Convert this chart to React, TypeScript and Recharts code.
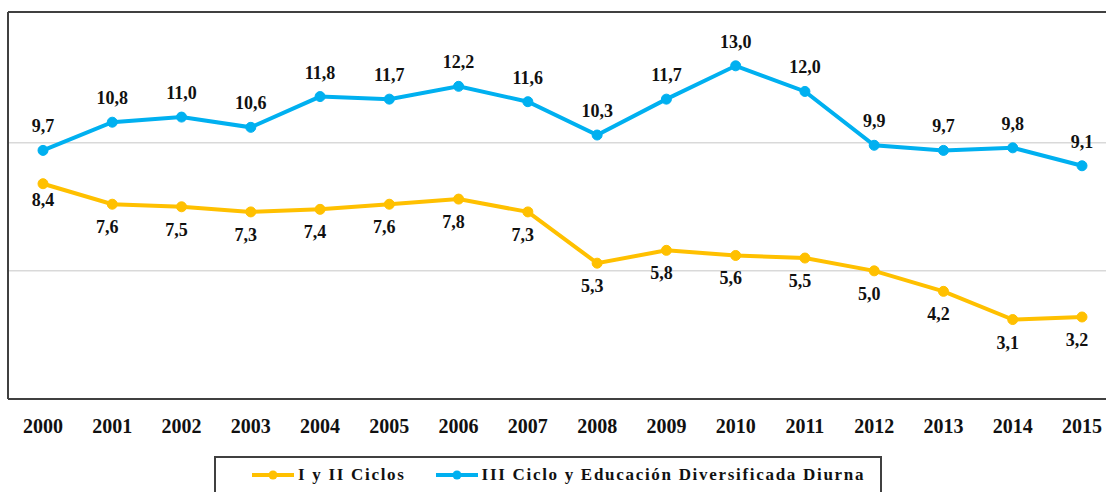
import { LineChart, Line, XAxis, YAxis, ReferenceLine, LabelList } from "recharts";

const years = [2000, 2001, 2002, 2003, 2004, 2005, 2006, 2007, 2008, 2009, 2010, 2011, 2012, 2013, 2014, 2015];
const ciclosIyII = [8.4, 7.6, 7.5, 7.3, 7.4, 7.6, 7.8, 7.3, 5.3, 5.8, 5.6, 5.5, 5.0, 4.2, 3.1, 3.2];
const cicloIIIDiurna = [9.7, 10.8, 11.0, 10.6, 11.8, 11.7, 12.2, 11.6, 10.3, 11.7, 13.0, 12.0, 9.9, 9.7, 9.8, 9.1];
const gridLevels = [5, 10];

const ORANGE = "#FFC000";
const BLUE = "#00B0F0";
const DARK = "#404040";
const FONT = "'Liberation Serif', 'DejaVu Serif', serif";
const Y_MAX = 15.1;

const data = years.map((year, i) => ({ year, a: ciclosIyII[i], b: cicloIIIDiurna[i] }));

const fmt = (v: number) => v.toFixed(1).replace(".", ",");

function YearTick({ x, y, payload }: any) {
  return (
    <text x={x} y={y + 32} textAnchor="middle" fontFamily={FONT} fontWeight={700} fontSize={20} fill="#111">
      {payload.value}
    </text>
  );
}

function AboveLabel({ x, y, value }: any) {
  return (
    <text x={x} y={y - 18} textAnchor="middle" fontFamily={FONT} fontWeight={700} fontSize={18} fill="#111">
      {fmt(value)}
    </text>
  );
}

function BelowLabel({ x, y, value, index }: any) {
  const dx = index === 0 ? 0 : -5;
  const dy = index === 0 ? 22 : 29;
  return (
    <text x={x + dx} y={y + dy} textAnchor="middle" fontFamily={FONT} fontWeight={700} fontSize={18} fill="#111">
      {fmt(value)}
    </text>
  );
}

function LegendItem({ color, label }: { color: string; label: string }) {
  return (
    <span style={{ display: "inline-flex", alignItems: "center", marginRight: 30 }}>
      <svg width={42} height={12} style={{ marginRight: 4 }}>
        <line x1={0} y1={6} x2={42} y2={6} stroke={color} strokeWidth={4} />
        <circle cx={21} cy={6} r={4.5} fill={color} />
      </svg>
      <span>{label}</span>
    </span>
  );
}

export default function App() {
  return (
    <div style={{ position: "absolute", left: 0, top: 0, width: 1106, height: 492, background: "#fff", overflow: "hidden" }}>
      <LineChart width={1106} height={492} data={data} margin={{ top: 12, right: 0, left: 0, bottom: 0 }}>
        <XAxis
          dataKey="year"
          type="number"
          domain={[2000, 2015]}
          ticks={years}
          padding={{ left: 35, right: 24 }}
          height={93}
          tickLine={false}
          tickSize={0}
          axisLine={{ stroke: DARK, strokeWidth: 2 }}
          tick={<YearTick />}
          interval={0}
        />
        <YAxis
          domain={[0, Y_MAX]}
          ticks={[0, 5, 10]}
          width={8}
          tick={false}
          tickLine={false}
          axisLine={{ stroke: DARK, strokeWidth: 2 }}
        />
        {gridLevels.map((v) => (
          <ReferenceLine key={v} y={v} stroke="#d9d9d9" strokeWidth={1.5} />
        ))}
        <ReferenceLine y={Y_MAX} stroke={DARK} strokeWidth={2} />
        <Line
          dataKey="a"
          name="I y II Ciclos"
          stroke={ORANGE}
          strokeWidth={4}
          dot={{ r: 5, fill: ORANGE, stroke: ORANGE, strokeWidth: 1 }}
          isAnimationActive={false}
        >
          <LabelList dataKey="a" content={<BelowLabel />} />
        </Line>
        <Line
          dataKey="b"
          name="III Ciclo y Educación Diversificada Diurna"
          stroke={BLUE}
          strokeWidth={4}
          dot={{ r: 5, fill: BLUE, stroke: BLUE, strokeWidth: 1 }}
          isAnimationActive={false}
        >
          <LabelList dataKey="b" content={<AboveLabel />} />
        </Line>
      </LineChart>
      <div
        style={{
          position: "absolute",
          left: 214,
          top: 456,
          width: 668,
          height: 60,
          border: `2px solid ${DARK}`,
          boxSizing: "border-box",
          paddingLeft: 36,
          paddingTop: 7,
          fontFamily: FONT,
          fontWeight: 700,
          fontSize: 17,
          letterSpacing: 1.7,
          color: "#111",
          whiteSpace: "nowrap",
        }}
      >
        <LegendItem color={ORANGE} label="I y II Ciclos" />
        <LegendItem color={BLUE} label="III Ciclo y Educación Diversificada Diurna" />
      </div>
    </div>
  );
}
